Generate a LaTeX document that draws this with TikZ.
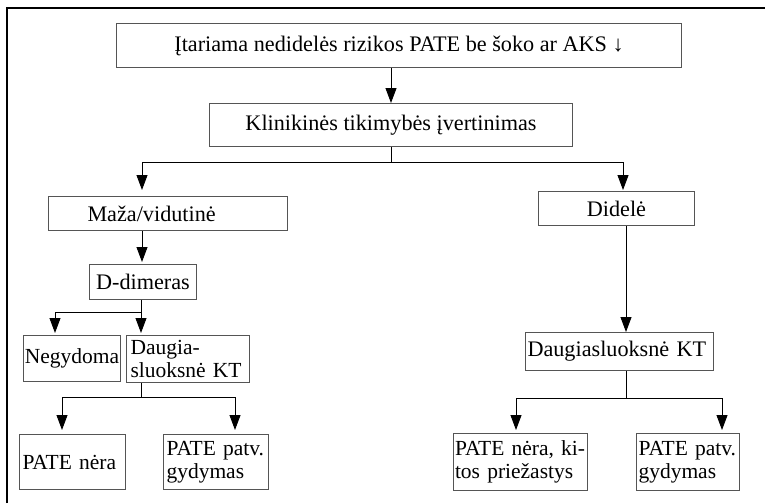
\documentclass[tikz,border=0pt]{standalone}
\usepackage{fontspec}
\setmainfont{Liberation Serif}
\usetikzlibrary{arrows.meta}
\definecolor{boxline}{RGB}{85,85,85}
\begin{document}
\begin{tikzpicture}[x=1pt,y=-1pt,
  every node/.style={font=\fontsize{21.5}{23.5}\selectfont},
  big/.style={font=\fontsize{22.2}{24}\selectfont},
  box/.style={draw=boxline, line width=1pt, anchor=north west, inner ysep=0pt},
  boxc/.style={box, align=center, inner xsep=0pt},
  boxl/.style={box, align=left},
  link/.style={line width=0.9pt, black},
  arr/.style={link, -{Triangle[length=15pt,width=11pt]}}]
\useasboundingbox (0,0) rectangle (765,503);

% outer frame (left and top edges)
\draw[line width=1.3pt] (7,503) -- (7,8) -- (765,8);

% boxes
\node[boxc, big, minimum width=565, minimum height=44] (q) at (116,23)
  {Įtariama nedidelės rizikos PATE be šoko ar AKS ↓};
\node[boxc, big, minimum width=363, minimum height=43] (clin) at (209,103)
  {Klinikinės tikimybės įvertinimas};
\node[boxl, big, minimum width=239, minimum height=34, inner xsep=39pt, text width=161pt] (low) at (48,196)
  {Maža/vidutinė};
\node[boxc, big, minimum width=156, minimum height=34] (high) at (538,191)
  {Didelė};
\node[boxc, big, minimum width=107, minimum height=35] (dd) at (89,264)
  {D-dimeras};
\node[boxc, minimum width=97, minimum height=46] (neg) at (23,335)
  {Negydoma};
\node[boxl, minimum width=123, minimum height=47, inner xsep=4pt, text width=115pt] (ct1) at (126,335)
  {Daugia-\\sluoksnė KT};
\node[boxl, big, minimum width=188, minimum height=38, inner xsep=2pt, text width=184pt] (ct2) at (525,332)
  {Daugiasluoksnė KT};
\node[boxl, minimum width=106, minimum height=55, inner xsep=3pt, text width=100pt] (no1) at (19,434)
  {PATE nėra};
\node[boxl, minimum width=105, minimum height=55, inner xsep=3pt, text width=99pt] (yes1) at (163,434)
  {PATE patv.\\gydymas};
\node[boxl, minimum width=134, minimum height=57, inner xsep=1.5pt, text width=131pt] (no2) at (453,433)
  {PATE nėra, ki-\\tos priežastys};
\node[boxl, minimum width=103, minimum height=57, inner xsep=2pt, text width=99pt] (yes2) at (636,433)
  {PATE patv.\\gydymas};

% junction points of the branching connectors
\coordinate (s1) at (391,162);
\coordinate (s1l) at (142,162);
\coordinate (s1r) at (623,162);
\coordinate (s2) at (141,312);
\coordinate (s2l) at (55,312);
\coordinate (s3) at (141,397);
\coordinate (s3l) at (62,397);
\coordinate (s3r) at (235,397);
\coordinate (s4) at (626,398);
\coordinate (s4l) at (516,398);
\coordinate (s4r) at (722,398);

% connectors
\draw[arr] (q.south -| s1) -- (clin.north -| s1);
\draw[link] (clin.south -| s1) -- (s1);
\draw[link] (s1l) -- (s1r);
\draw[arr, shorten >=6pt] (s1l) -- (low.north -| s1l);
\draw[arr, shorten >=1pt] (s1r) -- (high.north -| s1r);

\draw[arr, shorten >=2pt] (low.south -| s1l) -- (dd.north -| s1l);

\draw[link] (dd.south -| s2) -- (s2) -- (s2l);
\draw[arr, shorten >=2pt] (s2l) -- (neg.north -| s2l);
\draw[arr, shorten >=2pt] (s2) -- (ct1.north -| s2);

\draw[link] (ct1.south -| s3) -- (s3);
\draw[link] (s3l) -- (s3r);
\draw[arr, shorten >=4pt] (s3l) -- (no1.north -| s3l);
\draw[arr, shorten >=4pt] (s3r) -- (yes1.north -| s3r);

\draw[arr] (high.south -| 626,0) -- (ct2.north -| 626,0);

\draw[link] (ct2.south -| s4) -- (s4);
\draw[link] (s4l) -- (s4r);
\draw[arr, shorten >=3pt] (s4l) -- (no2.north -| s4l);
\draw[arr, shorten >=3pt] (s4r) -- (yes2.north -| s4r);
\end{tikzpicture}
\end{document}
